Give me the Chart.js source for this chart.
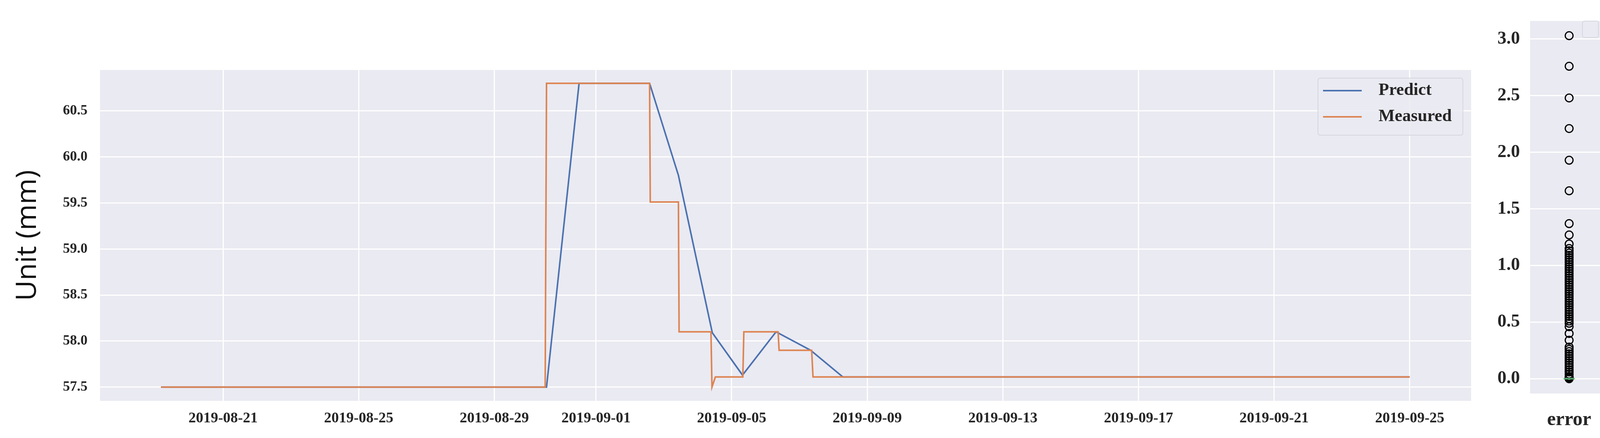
<!DOCTYPE html>
<html><head><meta charset="utf-8">
<script src="https://cdn.jsdelivr.net/npm/chart.js@4/dist/chart.umd.min.js"></script>
<style>
html,body{margin:0;padding:0;background:#fff;width:4157px;height:1121px;overflow:hidden}
#w1{position:absolute;left:0;top:0;width:3800px;height:1121px}
#w2{position:absolute;left:3800px;top:0;width:357px;height:1121px}
</style></head><body>
<div id="w1"><canvas id="c1"></canvas></div>
<div id="w2"><canvas id="c2"></canvas></div>
<script>
// x values are days since 2019-08-21
const xTickDays = [0, 4, 8, 11, 15, 19, 23, 27, 31, 35];
const xTickLabels = ['2019-08-21','2019-08-25','2019-08-29','2019-09-01','2019-09-05','2019-09-09','2019-09-13','2019-09-17','2019-09-21','2019-09-25'];
const yTicks = [57.5, 58.0, 58.5, 59.0, 59.5, 60.0, 60.5];
const predictDays = [-1.83, 9.54, 10.5, 12.58, 13.43, 14.43, 15.32, 16.31, 17.33, 18.28, 35];
const predictVals = [57.5, 57.5, 60.8, 60.8, 59.8, 58.09, 57.63, 58.1, 57.9, 57.61, 57.61];
const measuredDays = [-1.83, 9.5, 9.54, 12.58, 12.6, 13.43, 13.45, 14.39, 14.42, 14.52, 15.33, 15.36, 16.37, 16.4, 17.36, 17.4, 35];
const measuredVals = [57.5, 57.5, 60.8, 60.8, 59.51, 59.51, 58.1, 58.1, 57.5, 57.61, 57.61, 58.1, 58.1, 57.9, 57.9, 57.61, 57.61];
const errorOutliers = [3.03, 2.76, 2.48, 2.21, 1.93, 1.66, 1.37, 1.27, 1.19, 1.15, 1.13, 1.11, 1.09, 1.07, 1.05, 1.03, 1.01, 0.99, 0.97, 0.95, 0.93, 0.91, 0.89, 0.87, 0.85, 0.83, 0.81, 0.79, 0.77, 0.75, 0.73, 0.71, 0.69, 0.67, 0.65, 0.63, 0.61, 0.59, 0.57, 0.55, 0.53, 0.51, 0.49, 0.46, 0.40, 0.34, 0.28, 0.26, 0.24, 0.22, 0.20, 0.18, 0.16, 0.14, 0.12, 0.10, 0.08, 0.06, 0.04, 0.02, 0.01, 0.0];
const errorTicks = [0, 0.5, 1.0, 1.5, 2.0, 2.5, 3.0];
const errorMedian = 0.0;

const BG = '#eaeaf2', GRID = '#ffffff', TXT = '#262626';
const serifB = s => ({family: '"Liberation Serif", "DejaVu Serif", serif', weight: 'bold', size: s});
const bgPlugin = {id:'bg', beforeDraw(c){const a=c.chartArea,x=c.ctx;x.save();x.fillStyle=BG;x.fillRect(a.left,a.top,a.right-a.left,a.bottom-a.top);x.restore();}};
const legendPlugin = {id:'lg', afterDraw(c){
  const x=c.ctx; x.save();
  x.fillStyle='rgba(234,234,242,0.85)'; x.strokeStyle='#d6d6de'; x.lineWidth=2;
  x.beginPath(); x.roundRect(3374,200,371,146,6); x.fill(); x.stroke();
  x.font='bold 44px "Liberation Serif", serif'; x.textBaseline='middle'; x.fillStyle=TXT;
  c.data.datasets.forEach((d,i)=>{const y=232+i*67; x.strokeStyle=d.borderColor; x.lineWidth=4;
    x.beginPath(); x.moveTo(3387,y); x.lineTo(3486,y); x.stroke(); x.fillText(d.label,3529,y);});
  x.restore();}};

new Chart(document.getElementById('c1'), {
  type:'line',
  data:{datasets:[
    {label:'Predict', order:2, data:predictDays.map((d,i)=>({x:d,y:predictVals[i]})), borderColor:'#4c72b0', borderWidth:4, pointRadius:0, tension:0},
    {label:'Measured', order:1, data:measuredDays.map((d,i)=>({x:d,y:measuredVals[i]})), borderColor:'#dd8452', borderWidth:4, pointRadius:0, tension:0}
  ]},
  options:{responsive:true, maintainAspectRatio:false, animation:false, devicePixelRatio:1,
    layout:{padding:{top:179,right:34,left:28,bottom:0}},
    plugins:{legend:{display:false}, tooltip:{enabled:false}},
    scales:{
      x:{type:'linear', min:-3.63, max:36.81,
        afterBuildTicks:s=>{s.ticks=xTickDays.map(v=>({value:v}));},
        afterFit:s=>{s.height=95;},
        ticks:{callback:(v)=>xTickLabels[xTickDays.indexOf(v)], font:serifB(38), color:TXT, maxRotation:0, autoSkip:false, padding:22},
        grid:{color:GRID, lineWidth:3, drawTicks:false}, border:{display:false}},
      y:{min:57.35, max:60.945,
        afterBuildTicks:s=>{s.ticks=yTicks.map(v=>({value:v}));},
        afterFit:s=>{s.width=228;},
        ticks:{callback:v=>v.toFixed(1), font:serifB(36), color:TXT, padding:32},
        title:{display:true, text:'Unit (mm)', font:{family:'"Open Sans", sans-serif', size:72}, color:'#111', padding:0},
        grid:{color:GRID, lineWidth:3, drawTicks:false}, border:{display:false}}
    }},
  plugins:[bgPlugin, legendPlugin]
});

const boxLegend = {id:'bl', afterDraw(c){const x=c.ctx;x.save();x.fillStyle='rgba(234,234,242,0.9)';x.strokeStyle='#d6d6de';x.lineWidth=2;x.beginPath();x.roundRect(251,54,41,42,5);x.fill();x.stroke();x.restore();}};
new Chart(document.getElementById('c2'), {
  type:'scatter',
  data:{datasets:[
    {label:'median', type:'line', order:0, data:[{x:-0.07,y:errorMedian},{x:0.07,y:errorMedian}], borderColor:'#55a868', borderWidth:4, pointRadius:0},
    {label:'error', order:1, data:errorOutliers.map(v=>({x:0,y:v})), pointRadius:10, pointStyle:'circle', borderColor:'#000', borderWidth:3, backgroundColor:'rgba(0,0,0,0)'}
  ]},
  options:{responsive:true, maintainAspectRatio:false, animation:false, devicePixelRatio:1,
    layout:{padding:{top:32,right:40,left:0,bottom:0}},
    plugins:{legend:{display:false}, tooltip:{enabled:false}},
    scales:{
      x:{type:'linear', min:-0.5, max:0.5,
        afterBuildTicks:s=>{s.ticks=[{value:0}];},
        afterFit:s=>{s.height=114;},
        ticks:{callback:()=> 'error', font:serifB(50), color:TXT, padding:30},
        grid:{display:false}, border:{display:false}},
      y:{min:-0.13, max:3.16,
        afterBuildTicks:s=>{s.ticks=errorTicks.map(v=>({value:v}));},
        afterFit:s=>{s.width=117;},
        ticks:{callback:v=>v.toFixed(1), font:serifB(46), color:TXT, padding:26},
        grid:{color:GRID, lineWidth:3, drawTicks:false}, border:{display:false}}
    }},
  plugins:[bgPlugin, boxLegend]
});
</script></body></html>
